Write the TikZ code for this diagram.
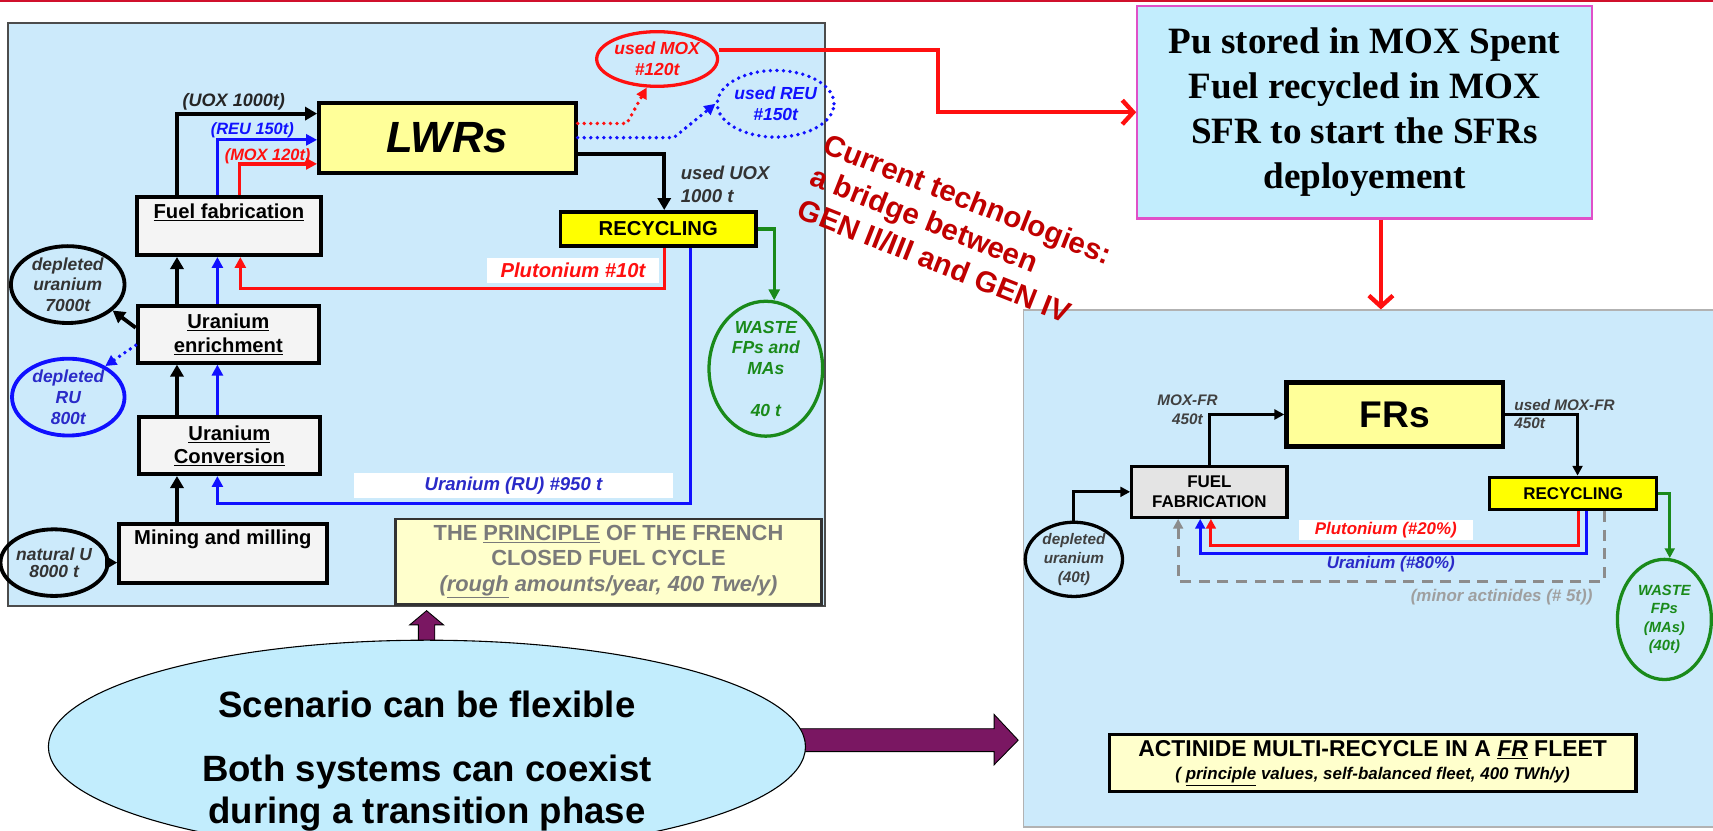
\documentclass[tikz,border=0pt]{standalone}
\usepackage{fontspec}
\setmainfont{Liberation Sans}
\newfontfamily\pufont{Liberation Serif}
\usetikzlibrary{arrows.meta,shapes.geometric}
\definecolor{panelblue}{HTML}{CCEAFB}
\definecolor{cyanbox}{HTML}{C2EDFD}
\definecolor{lwryel}{HTML}{FFFF99}
\definecolor{recyel}{HTML}{FFFF00}
\definecolor{ffgray}{HTML}{F4F4F4}
\definecolor{ffgray2}{HTML}{E4E4E4}
\definecolor{creamy}{HTML}{FFFFCC}
\definecolor{purp}{HTML}{7A1762}
\definecolor{darkred}{HTML}{C00000}
\definecolor{magen}{HTML}{E050C8}
\definecolor{grnln}{HTML}{1A8A1A}
\definecolor{bluetx}{HTML}{2A2AC8}
\definecolor{graytx}{HTML}{7A7A7A}
\definecolor{topred}{HTML}{D0102C}
\definecolor{lineblue}{HTML}{1010FF}
\definecolor{linered}{HTML}{FF1010}
\newcommand\fs[2]{\fontsize{#1}{#2}\selectfont}
\begin{document}
\begin{tikzpicture}[x=1pt,y=-1pt,
  box/.style={draw=black, line width=3.5pt, inner sep=0pt, align=center},
  lab/.style={inner sep=0pt, align=center, font=\bfseries\itshape},
  ell/.style={ellipse, inner sep=0pt, align=center},
  blka/.style={draw=black, line width=3.5pt, -{Triangle[length=11pt,width=12pt]}},
  bluea/.style={draw=lineblue, line width=3pt, -{Triangle[length=10pt,width=10pt]}},
  reda/.style={draw=linered, line width=3pt, -{Triangle[length=10pt,width=10pt]}},
  grna/.style={draw=grnln, line width=3pt, -{Triangle[length=10pt,width=10pt]}},
  dotr/.style={draw=linered, line width=3.5pt, dash pattern=on 0pt off 6pt, line cap=round, -{Triangle[length=10pt,width=10pt]}},
  dotb/.style={draw=lineblue, line width=3.5pt, dash pattern=on 0pt off 6pt, line cap=round, -{Triangle[length=10pt,width=10pt]}},
  blkb/.style={draw=black, line width=2.8pt, -{Triangle[length=9pt,width=9pt]}},
  blueb/.style={draw=lineblue, line width=2.8pt, -{Triangle[length=9pt,width=9pt]}},
  redb/.style={draw=linered, line width=2.8pt, -{Triangle[length=9pt,width=9pt]}},
  grnb/.style={draw=grnln, line width=2.8pt, -{Triangle[length=9pt,width=9pt]}},
  grayd/.style={draw=gray!90, line width=3pt, dash pattern=on 10pt off 7pt, -{Triangle[length=9pt,width=9pt]}},
  redbig/.style={draw=linered, line width=4pt, -{Straight Barb[length=10pt,width=22pt]}},
  purpa/.style={fill=purp, draw=black, line width=0.8pt},
  whitelab/.style={fill=white, inner sep=0pt, font=\bfseries\itshape}
]
\useasboundingbox (0,0) rectangle (1568,760);
\fill[white] (0,0) rectangle (1568,760);
\draw[topred, line width=1.5pt] (0,0.75) -- (1568,0.75);

% panels
\node[draw=black!70, line width=2pt, fill=panelblue, minimum width=748pt, minimum height=534pt, inner sep=0pt] (lpanel) at (381,288) {};
\node[draw=gray!60, line width=1.5pt, fill=panelblue, minimum width=638pt, minimum height=473pt, inner sep=0pt] (rpanel) at (1256,520.5) {};

% left diagram nodes
\node[box, fill=lwryel, minimum width=235pt, minimum height=64pt, font=\fs{40}{40}\bfseries\itshape] (lwr) at (409.5,126) {LWRs};
\node[box, fill=recyel, minimum width=179pt, minimum height=31pt, font=\fs{18.5}{20}\bfseries] (recl) at (602.5,209.5) {RECYCLING};
\node[box, fill=ffgray, minimum width=168pt, minimum height=53pt] (ffl) at (209.5,207) {};
\node[lab, font=\fs{18.5}{20}\bfseries] (fflt) at (209.5,194) {\underline{Fuel fabrication}};
\node[box, fill=ffgray, minimum width=166pt, minimum height=52pt, font=\fs{18.5}{21.5}\bfseries] (enr) at (209,306) {\underline{Uranium}\\\underline{enrichment}};
\node[box, fill=ffgray, minimum width=166pt, minimum height=52pt, font=\fs{18.5}{21.5}\bfseries] (conv) at (210,408) {\underline{Uranium}\\\underline{Conversion}};
\node[box, fill=ffgray, minimum width=190pt, minimum height=54pt] (mine) at (204,507) {};
\node[lab, font=\fs{18.5}{20}\bfseries] (minet) at (204,494) {Mining and milling};
\node[draw=black!80, line width=2.5pt, fill=creamy, minimum width=390pt, minimum height=78pt, inner sep=0pt, align=center, text=graytx, font=\fs{20}{23.5}\bfseries] (prin) at (557,514) {THE \underline{PRINCIPLE} OF THE FRENCH\\CLOSED FUEL CYCLE\\{\itshape(\underline{rough} amounts/year, 400 Twe/y)}};

\node[ell, draw=black, line width=3.5pt, minimum width=104pt, minimum height=69pt, text=black!80, font=\fs{16}{19}\bfseries\itshape] (dul) at (62,260.5) {depleted\\uranium\\7000t};
\node[ell, draw=lineblue, line width=3.5pt, minimum width=103pt, minimum height=69pt, text=bluetx, font=\fs{16}{19}\bfseries\itshape] (drul) at (62.5,363.5) {depleted\\RU\\800t};
\node[ell, draw=black, line width=3.5pt, minimum width=81pt, minimum height=61pt, text=black!80, font=\fs{16}{15}\bfseries\itshape] (nu) at (49.5,515) {natural U\\8000 t};
\node[ell, draw=grnln, line width=3pt, minimum width=104pt, minimum height=119pt, text=grnln, font=\fs{16}{19}\bfseries\itshape] (wl) at (701,337.5) {WASTE\\FPs and\\MAs\\[19pt]40 t};
\node[ell, draw=linered, line width=3pt, minimum width=91pt, minimum height=50pt, text=linered, font=\fs{16}{19}\bfseries\itshape] (umox) at (601.5,54) {used MOX\\\#120t};
\node[ell, draw=lineblue, line width=3.5pt, dash pattern=on 0pt off 6pt, line cap=round, minimum width=92pt, minimum height=61pt, text=lineblue, font=\fs{16}{19}\bfseries\itshape] (ureu) at (710,95) {used REU\\\#150t};

% left arrows
\draw[blka] (ffl.north -| 162,0) |- (lwr.west |- 0,104);
\draw[bluea] (ffl.north -| 199,0) |- (lwr.west |- 0,128);
\draw[reda] (ffl.north -| 219,0) |- (lwr.west |- 0,150);
\draw[blka] (enr.north -| 162,0) -- (ffl.south -| 162,0);
\draw[bluea] (enr.north -| 199,0) -- (ffl.south -| 199,0);
\draw[blka] (conv.north -| 162,0) -- (enr.south -| 162,0);
\draw[bluea] (conv.north -| 199,0) -- (enr.south -| 199,0);
\draw[blka] (mine.north -| 162,0) -- (conv.south -| 162,0);
\draw[blka] (nu.east) -- (mine.west |- nu.east);
\draw[blka] (enr.west |- 0,300) -- (dul.-30);
\draw[dotb] (enr.west |- 0,316) -- (drul.40);
\draw[dotr] (lwr.east |- 0,113) -- ++(45,0) -- (umox.-110);
\draw[dotb] (lwr.east |- 0,126) -- ++(88,0) -- (ureu.west);
\draw[blka] (lwr.east |- 0,141) -| (recl.north -| 608,0);
\draw[grna] (recl.east) -| (wl.83);
\draw[reda] (recl.south -| 608,0) -- ++(0,37) -| (ffl.south -| 220,0);
\draw[bluea] (recl.south -| 632,0) -- ++(0,234) -| (conv.south -| 199,0);

% left labels
\node[lab, text=black!85, font=\fs{16.5}{18}\bfseries\itshape] (luox) at (214,93) {(UOX 1000t)};
\node[lab, text=lineblue, font=\fs{15}{17}\bfseries\itshape] (lreu) at (231,119) {(REU 150t)};
\node[lab, text=linered, font=\fs{15}{17}\bfseries\itshape] (lmox) at (245,143) {(MOX 120t)};
\node[lab, align=left, anchor=west, text=black!80, font=\fs{17}{21}\bfseries\itshape] (luuox) at (623,169) {used UOX\\1000 t};
\node[whitelab, minimum width=157pt, minimum height=23pt, text=linered, font=\fs{18.5}{20}\bfseries\itshape] (lpu) at (524.5,247.5) {Plutonium \#10t};
\node[whitelab, minimum width=292pt, minimum height=23pt, text=bluetx, font=\fs{17}{19}\bfseries\itshape] (lru) at (470,444.5) {Uranium (RU) \#950 t};

% right diagram nodes
\node[box, line width=4pt, fill=lwryel, minimum width=198pt, minimum height=58.7pt, font=\fs{34}{34}\bfseries] (frs) at (1276.6,379.4) {FRs};
\node[box, line width=3pt, fill=ffgray2, minimum width=142pt, minimum height=46.5pt, font=\fs{15.5}{19}\bfseries] (fff) at (1107,450.2) {FUEL\\FABRICATION};
\node[box, line width=3pt, fill=recyel, minimum width=153pt, minimum height=29.6pt, font=\fs{15.5}{17}\bfseries] (recr) at (1440,451.7) {RECYCLING};
\node[ell, draw=black, line width=3pt, minimum width=89pt, minimum height=62pt, text=black!75, font=\fs{14}{17.5}\bfseries\itshape] (dur) at (983,512) {depleted\\uranium\\(40t)};
\node[ell, draw=grnln, line width=3pt, minimum width=86pt, minimum height=110pt, text=grnln, font=\fs{13.5}{17}\bfseries\itshape] (wr) at (1523.5,567) {WASTE\\FPs\\(MAs)\\(40t)};
\node[draw=black, line width=3pt, fill=creamy, minimum width=482pt, minimum height=52pt, inner sep=0pt, align=center, font=\fs{15.5}{21}\bfseries\itshape] (act) at (1256.4,698.5) {{\fs{21}{21}\upshape ACTINIDE MULTI-RECYCLE IN A \underline{\itshape FR} FLEET}\\( \underline{principle} values, self-balanced fleet, 400 TWh/y)};

% right arrows
\draw[blkb] (fff.north) |- (frs.west);
\draw[blkb] (frs.east) -| (recr.north -| 1444,0);
\draw[blkb] (dur.north) |- (fff.west);
\draw[grnb] (recr.east) -| (wr.85);
\draw[redb] (recr.south -| 1445,0) -- ++(0,31.5) -| (fff.south -| 1108.4,0);
\draw[blueb] (recr.south -| 1452,0) -- ++(0,38.5) -| (fff.south -| 1098.6,0);
\draw[grayd] (recr.south -| 1468.4,0) -- ++(0,64) -| (fff.south -| 1078.4,0);

% right labels
\node[lab, text=black!75, font=\fs{14}{17}\bfseries\itshape] (lmoxfr) at (1087,375) {MOX-FR\\450t};
\node[lab, anchor=west, align=left, text=black!75, font=\fs{14}{17}\bfseries\itshape] (lumoxfr) at (1386,379) {used MOX-FR\\450t};
\node[whitelab, minimum width=159pt, minimum height=19pt, text=linered, font=\fs{15.5}{17}\bfseries\itshape] (lpu2) at (1268.5,485.2) {Plutonium (\#20\%)};
\node[lab, text=bluetx, font=\fs{15.5}{17}\bfseries\itshape] (lu2) at (1273,516) {Uranium (\#80\%)};
\node[lab, text=gray!75, font=\fs{15.5}{17}\bfseries\itshape] (lma) at (1374.5,547) {(minor actinides (\# 5t))};

% Pu box and arrows
\node[draw=magen, line width=2pt, fill=cyanbox, minimum width=416pt, minimum height=194.5pt, inner sep=0pt, align=center, font=\pufont\bfseries\fs{34}{41}] (pu) at (1249,102.75) {Pu stored in MOX Spent\\Fuel recycled in MOX\\SFR to start the SFRs\\deployement};
\draw[redbig] (umox.east |- 0,46) -- ++(200,0) |- (pu.west);
\draw[redbig] (pu.south -| 1264,0) -- (rpanel.north -| 1264,0);

% rotated text
\node[rotate=-21.5, anchor=north west, inner sep=0pt, align=left, text=darkred, font=\fs{27}{32}\bfseries] (cur) at (759,121) {Current technologies:\\a bridge between\\GEN II/III and GEN IV};

% purple arrows and ellipse
\draw[purpa] (383,592) -- (383,572) -- (375,572) -- (390.5,559) -- (406,572) -- (398,572) -- (398,592) -- cycle;
\draw[purpa] (720,667) -- (910,667) -- (910,654) -- (932,677.5) -- (910,700) -- (910,688) -- (720,688) -- cycle;
\node[ellipse, draw=black, line width=1pt, fill=cyanbox, minimum width=693pt, minimum height=195pt, inner sep=0pt] (bigell) at (390.8,683.5) {};
\node[inner sep=0pt, align=center, font=\fs{33.5}{38}\bfseries] (bigtxt) at (390.8,696.6) {Scenario can be flexible\\[20.9pt]Both systems can coexist\\during a transition phase};
\end{tikzpicture}
\end{document}
